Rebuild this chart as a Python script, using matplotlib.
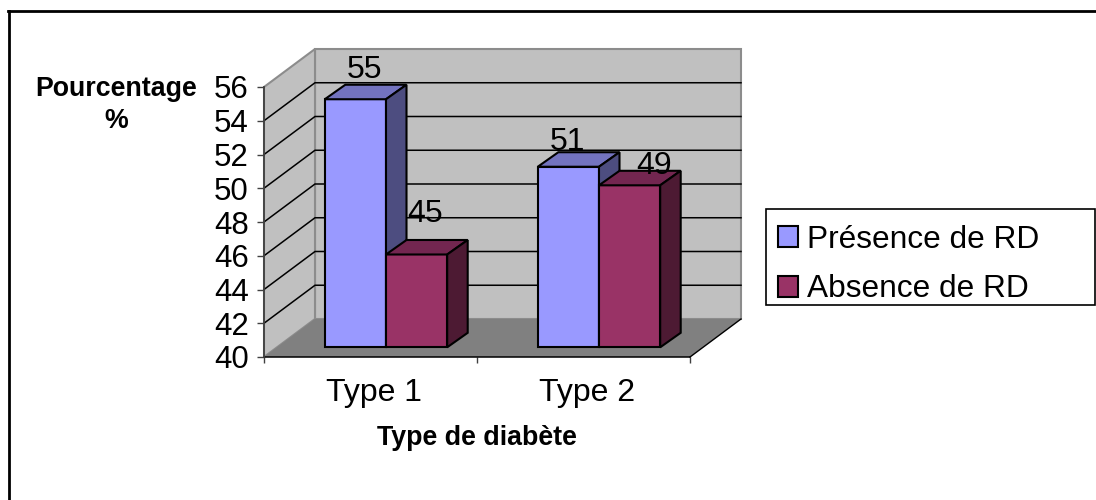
import matplotlib
matplotlib.use("Agg")
import matplotlib.pyplot as plt
from matplotlib.patches import Polygon, Patch, Rectangle
from matplotlib.lines import Line2D
from matplotlib.transforms import ScaledTranslation

plt.rcParams['font.family'] = ['Liberation Sans', 'DejaVu Sans']

categories = ['Type 1', 'Type 2']
series_names = ['Présence de RD', 'Absence de RD']
presence_heights = [54.7, 50.7]
absence_heights = [45.5, 49.6]
presence_labels = ['55', '51']
absence_labels = ['45', '49']
y_ticks = [40, 42, 44, 46, 48, 50, 52, 54, 56]

W, H = 1096, 500
fig = plt.figure(figsize=(W / 100, H / 100), dpi=100, facecolor='white')
L, R, T, B = 264, 690, 87, 357
ax = fig.add_axes([L / W, 1 - B / H, (R - L) / W, (B - T) / H])
ax.set_xlim(0, 2)
ax.set_ylim(40, 56)
ax.patch.set_visible(False)
px_x = 2 / (R - L)
px_y = 16 / (B - T)

DEPTH_X, DEPTH_Y = 51 * px_x, 38 * px_y
BLUE, BLUE_TOP, BLUE_SIDE = '#9999FF', '#7373BF', '#4D4D80'
PLUM, PLUM_TOP, PLUM_SIDE = '#993366', '#732650', '#4D1A33'


def poly(pts, fc, ec='black', lw=1.5, z=2):
    ax.add_patch(Polygon(pts, closed=True, facecolor=fc, edgecolor=ec, lw=lw,
                         zorder=z, clip_on=False, joinstyle='miter'))


# walls and floor
poly([(DEPTH_X, 40 + DEPTH_Y), (2 + DEPTH_X, 40 + DEPTH_Y), (2 + DEPTH_X, 56 + DEPTH_Y), (DEPTH_X, 56 + DEPTH_Y)],
     '#C0C0C0', ec='#8C8C8C', lw=1.5, z=1)
poly([(0, 40), (DEPTH_X, 40 + DEPTH_Y), (DEPTH_X, 56 + DEPTH_Y), (0, 56)],
     '#C0C0C0', ec='#8C8C8C', lw=1.5, z=1)
poly([(0, 40), (2, 40), (2 + DEPTH_X, 40 + DEPTH_Y), (DEPTH_X, 40 + DEPTH_Y)],
     '#808080', ec='none', lw=0, z=1)
ax.plot([2, 2 + DEPTH_X], [40, 40 + DEPTH_Y], color='black', lw=1, clip_on=False, zorder=1.4)

for v in y_ticks[1:-1]:
    ax.plot([0, DEPTH_X, 2 + DEPTH_X], [v, v + DEPTH_Y, v + DEPTH_Y], color='black', lw=1.1,
            clip_on=False, zorder=1.5, solid_joinstyle='miter')

# bars
OFF_X, OFF_Y = 15.5 * px_x, 9.7 * px_y
BAR_W = 61.2 * px_x
BD_X, BD_Y = 20.5 * px_x, 14.5 * px_y


def bar(x0, h, front, top, side, z):
    x1 = x0 + BAR_W
    b = 40 + OFF_Y
    t = h + OFF_Y
    poly([(x0, b), (x1, b), (x1, t), (x0, t)], front, z=z)
    poly([(x0, t), (x1, t), (x1 + BD_X, t + BD_Y), (x0 + BD_X, t + BD_Y)], top, z=z)
    poly([(x1, b), (x1 + BD_X, b + BD_Y), (x1 + BD_X, t + BD_Y), (x1, t)], side, z=z)
    return (x0 + x1) / 2, t


label_offsets = [[(9, 29), (8, 40)], [(-1, 25), (24, 19)]]
for i in range(len(categories)):
    c = i + 0.5 + OFF_X
    a = bar(c - BAR_W, presence_heights[i], BLUE, BLUE_TOP, BLUE_SIDE, 3 + i)
    b = bar(c, absence_heights[i], PLUM, PLUM_TOP, PLUM_SIDE, 3.5 + i)
    for pos, lab, off in zip((a, b), (presence_labels[i], absence_labels[i]), label_offsets[i]):
        ax.annotate(lab, xy=pos, xytext=off, textcoords='offset pixels', ha='center', va='center',
                    fontsize=23, color='black', zorder=10, annotation_clip=False)

# axes
for s in ('top', 'right'):
    ax.spines[s].set_visible(False)
ax.spines['left'].set_color('#404040')
ax.spines['left'].set_linewidth(1.3)
ax.spines['bottom'].set_color('black')
ax.spines['bottom'].set_linewidth(1.1)
ax.spines['left'].set_zorder(6)
ax.set_yticks(y_ticks)
ax.set_yticklabels([str(v) for v in y_ticks])
ax.tick_params(axis='y', length=5, width=1, color='#404040', labelsize=22.5, pad=6)
ax.set_xticks([0, 1, 2])
ax.set_xticklabels([])
ax.set_xticks([0.5, 1.5], minor=True)
ax.set_xticklabels(categories, minor=True)
ax.tick_params(axis='x', which='major', length=4.5, width=1, color='#404040')
ax.tick_params(axis='x', which='minor', length=0, labelsize=23, pad=15)
shift = ScaledTranslation(4 / 100, 0, fig.dpi_scale_trans)
for lab in ax.get_xticklabels(minor=True):
    lab.set_transform(lab.get_transform() + shift)

fig.text(116 / W, 1 - 89 / H, 'Pourcentage', fontsize=19.3, fontweight='bold', ha='center', va='center')
fig.text(116 / W, 1 - 121 / H, '%', fontsize=19.3, fontweight='bold', ha='center', va='center')
fig.text(477 / W, 1 - 438 / H, 'Type de diabète', fontsize=19.3, fontweight='bold', ha='center', va='center')

# legend
fig.add_artist(Rectangle((766 / W, 1 - 305 / H), 329 / W, 96 / H, transform=fig.transFigure,
                         facecolor='white', edgecolor='black', lw=1.2))
handles = [Patch(facecolor=BLUE, edgecolor='black', lw=1.5), Patch(facecolor=PLUM, edgecolor='black', lw=1.5)]
leg = fig.legend(handles, series_names, loc='upper left', bbox_to_anchor=(762.5 / W, 1 - 209 / H),
                 frameon=False, fontsize=22.8, handlelength=0.62, handleheight=0.62, handletextpad=0.3,
                 labelspacing=0.62, borderpad=0.5, borderaxespad=0, ncols=1)

# outer frame (only top and left are visible)
fig.add_artist(Line2D([9 / W, 9 / W], [0, 1 - 11 / H], color='black', lw=2, transform=fig.transFigure))
fig.add_artist(Line2D([8 / W, 1], [1 - 11 / H, 1 - 11 / H], color='black', lw=2, transform=fig.transFigure))

fig.savefig('out.png', dpi=100)
